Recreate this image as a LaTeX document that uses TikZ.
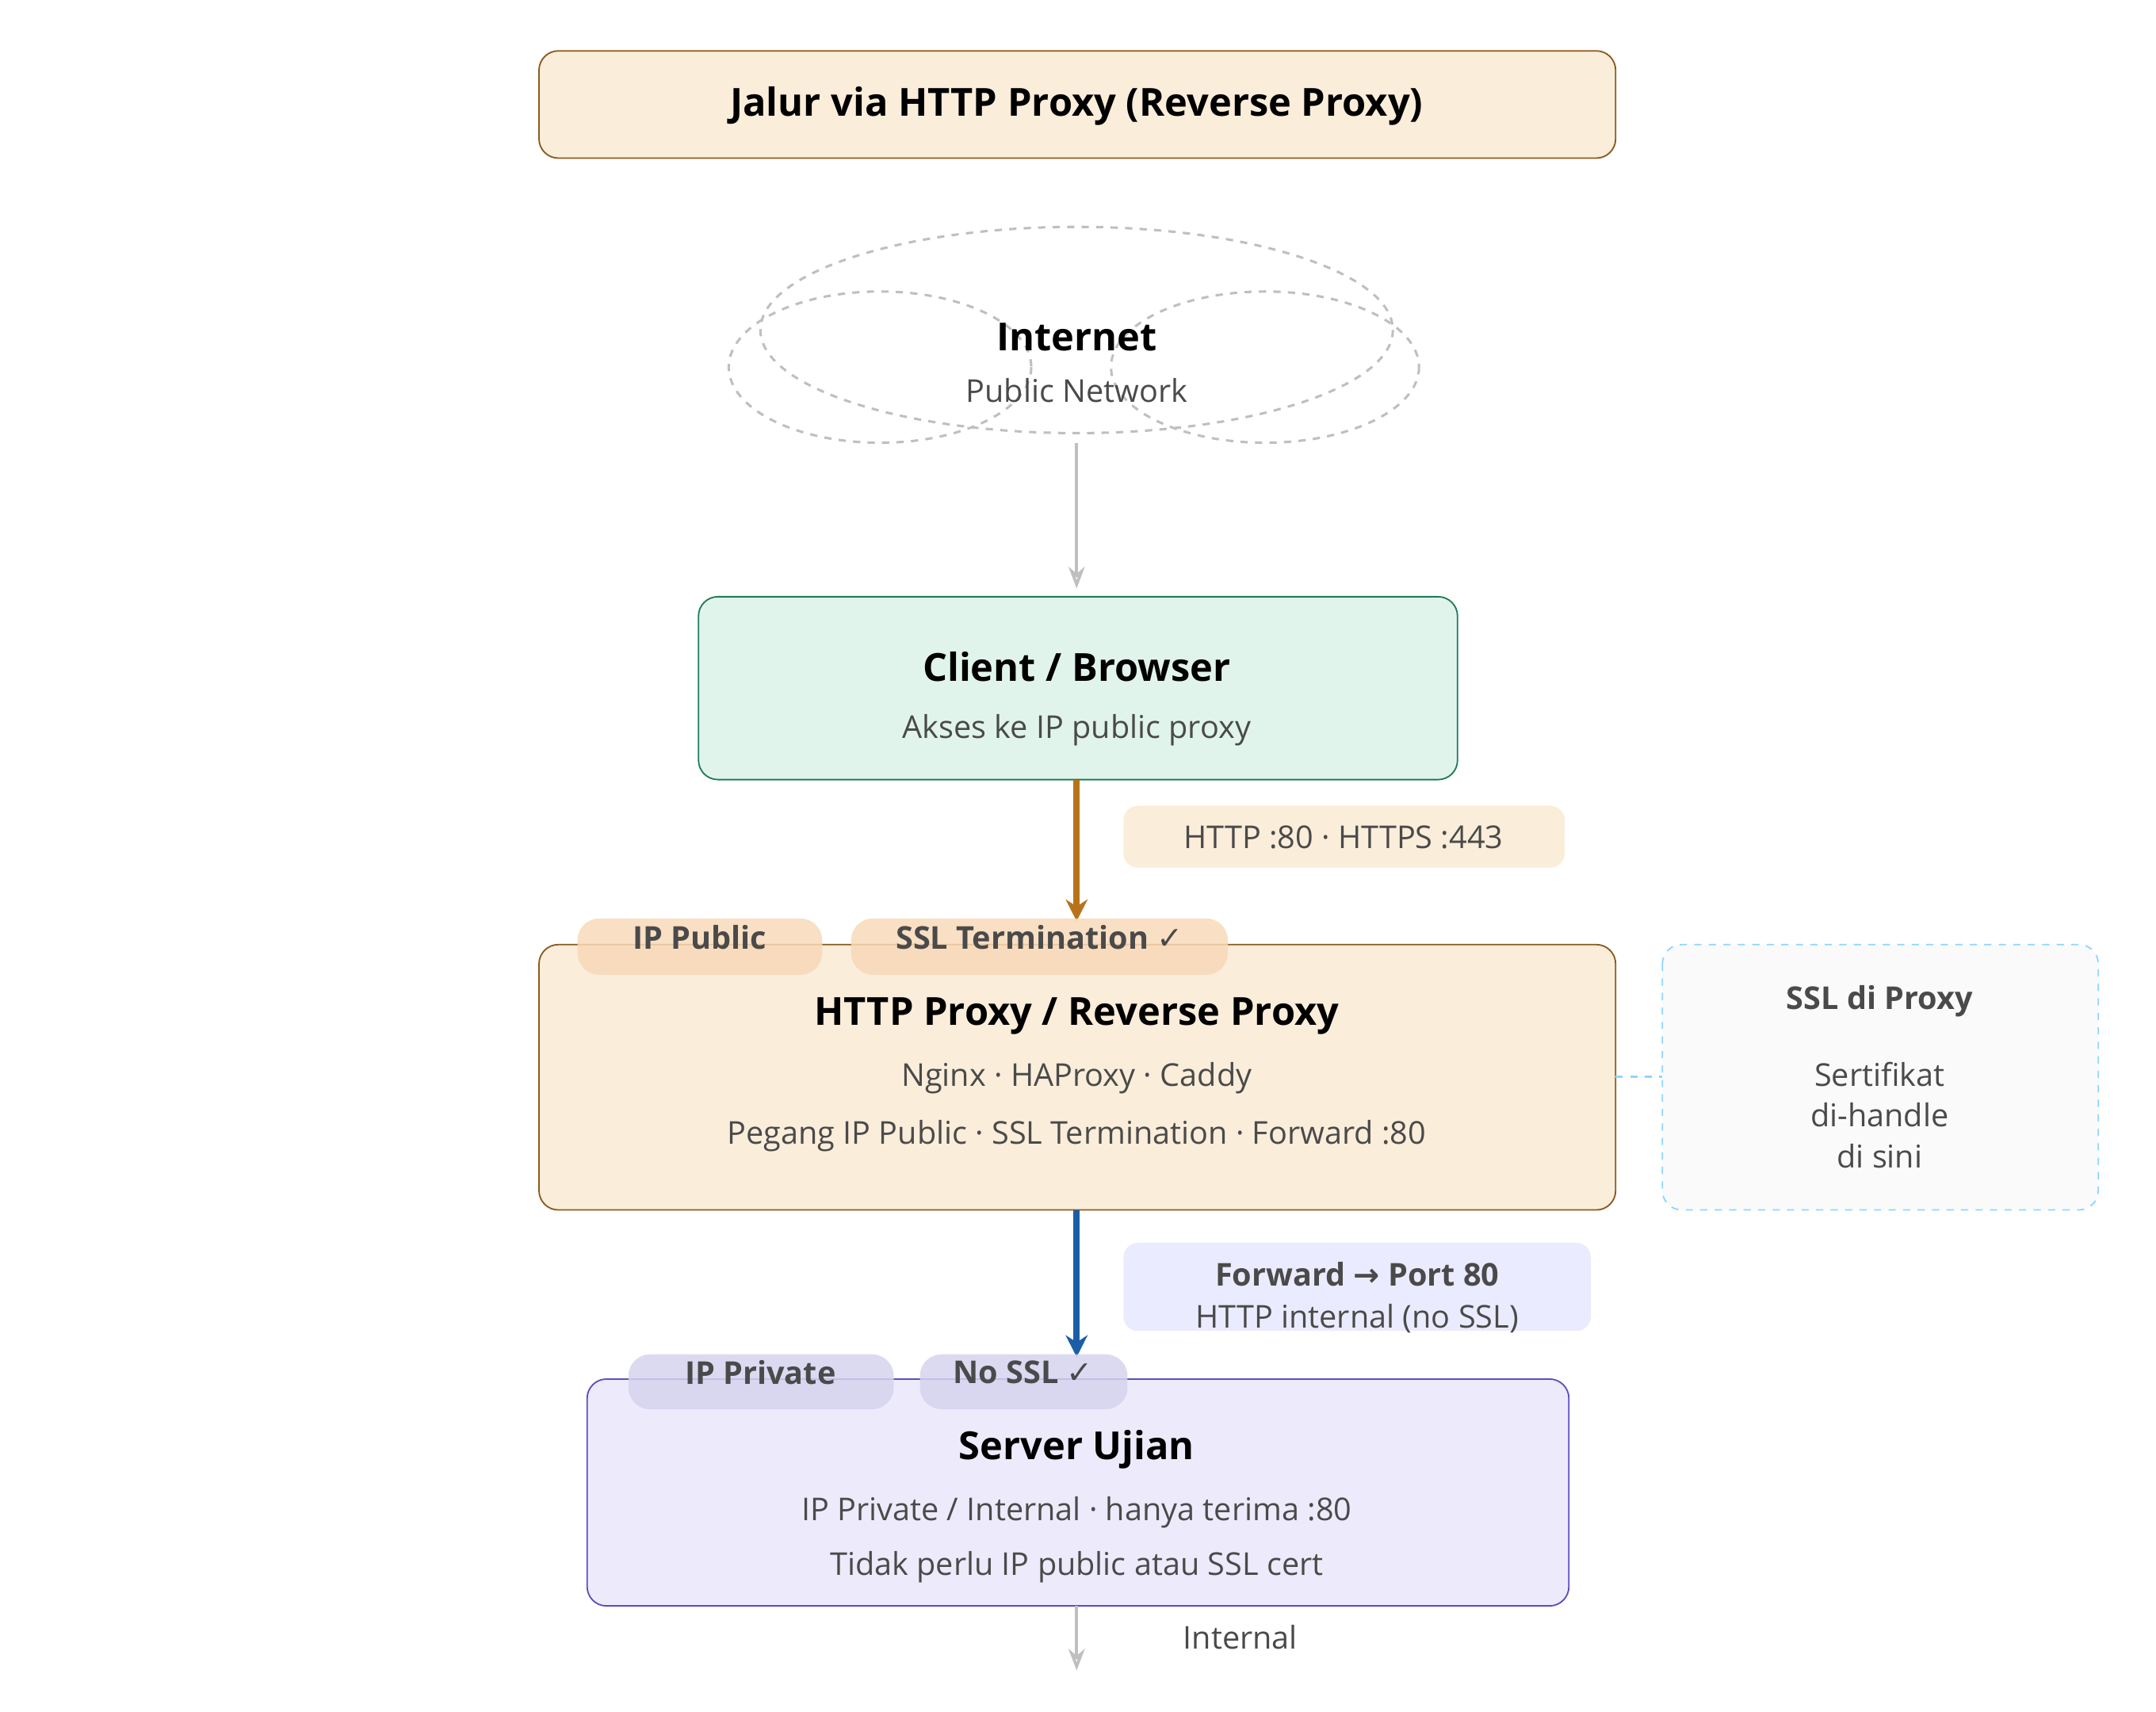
\documentclass[tikz,border=0pt]{standalone}
\usepackage{fontspec}
\setmainfont{Open Sans}
\newfontfamily\symfont{DejaVu Sans}
\usetikzlibrary{positioning,arrows.meta,shapes.geometric}
\definecolor{brownfill}{HTML}{FAEDDA}
\definecolor{browndraw}{HTML}{8A5A1E}
\definecolor{greenfill}{HTML}{E1F4EC}
\definecolor{greendraw}{HTML}{1E7B5A}
\definecolor{purplefill}{HTML}{EDEBFB}
\definecolor{purpledraw}{HTML}{5B4FC0}
\definecolor{textgray}{HTML}{4A4A4A}
\definecolor{orangeline}{HTML}{B8731A}
\definecolor{blueline}{HTML}{1A5EA8}
\newcommand{\chk}{{\symfont\char"2713}}
\newcommand{\rarr}{{\symfont\char"2192}}
\newcommand{\bigtxt}{\fontsize{16}{19}\selectfont}
\newcommand{\smalltxt}{\fontsize{13}{17}\selectfont}

\begin{document}
\begin{tikzpicture}[
  x=0.02cm, y=-0.02cm,
  box/.style={draw,rounded corners=8pt,line width=0.6pt},
  title/.style={font=\bigtxt\bfseries},
  sub/.style={font=\smalltxt,text=textgray},
  pill/.style={rounded corners=9pt,font=\smalltxt\bfseries,text=textgray,opacity=0.85,text opacity=1},
  flow/.style={line width=2.5pt,-{Stealth[length=9pt,width=9pt]}},
  thin/.style={draw=black!25,line width=1.2pt,-{Stealth[length=9pt,open]}},
]
  \useasboundingbox (0,0) rectangle (1568,1245);

  % Title
  \draw[box,fill=brownfill,draw=browndraw] (392,37) rectangle (1175,115);
  \node[title] (head) at (783,77) {Jalur via HTTP Proxy (Reverse Proxy)};

  % Internet cloud
  \draw[dashed,draw=black!25,line width=1pt] (783,240) ellipse (230 and 75);
  \draw[dashed,draw=black!25,line width=1pt] (640,267) ellipse (110 and 55);
  \draw[dashed,draw=black!25,line width=1pt] (920,267) ellipse (112 and 55);
  \node[title] (inet) at (783,245) {Internet};
  \node[sub] (inetsub) at (783,284) {Public Network};
  \coordinate (cloudbot) at (783,322);

  % Client
  \draw[box,fill=greenfill,draw=greendraw] (508,434) rectangle (1060,567);
  \node[title] (client) at (783,485) {Client / Browser};
  \node[sub] at (783,531) {Akses ke IP public proxy};
  \coordinate (clienttop) at (783,428);
  \coordinate (clientbot) at (783,567);

  % Proxy
  \draw[box,fill=brownfill,draw=browndraw] (392,687) rectangle (1175,880);
  \node[title] (proxy) at (783,739) {HTTP Proxy / Reverse Proxy};
  \node[sub] at (783,784) {Nginx · HAProxy · Caddy};
  \node[sub] at (783,826) {Pegang IP Public · SSL Termination · Forward :80};
  \coordinate (proxytop) at (783,670);
  \coordinate (proxybot) at (783,880);
  \coordinate (proxyright) at (1175,783);

  % Side note
  \draw[box,dashed,fill=black!2,draw=blue!35!cyan!45] (1209,687) rectangle (1526,880);
  \node[sub,font=\smalltxt\bfseries] (note) at (1367,728) {SSL di Proxy};
  \node[sub,align=center] at (1367,811) {Sertifikat\\di-handle\\di sini};
  \coordinate (noteleft) at (1209,783);
  \draw[dashed,draw=blue!35!cyan!45,line width=0.8pt] (proxyright) -- (noteleft);

  % Server
  \draw[box,fill=purplefill,draw=purpledraw] (427,1003) rectangle (1141,1168);
  \node[title] (server) at (783,1054) {Server Ujian};
  \node[sub] at (783,1100) {IP Private / Internal · hanya terima :80};
  \node[sub] at (783,1140) {Tidak perlu IP public atau SSL cert};
  \coordinate (servertop) at (783,987);
  \coordinate (serverbot) at (783,1168);
  \coordinate (out) at (783,1215);

  % Connectors
  \draw[thin] (cloudbot) -- (clienttop);
  \draw[flow,draw=orangeline] (clientbot) -- (proxytop);
  \draw[flow,draw=blueline] (proxybot) -- (servertop);
  \draw[thin] (serverbot) -- (out);

  % Labels
  \fill[brownfill,rounded corners=6pt] (817,586) rectangle (1138,631);
  \node[sub] (lbl1) at (977,609) {HTTP :80 · HTTPS :443};
  \fill[blue!8,rounded corners=6pt] (817,904) rectangle (1157,968);
  \node[sub,font=\smalltxt\bfseries] (lbl2) at (987,927) {Forward \rarr\ Port 80};
  \node[sub] at (987,959) {HTTP internal (no SSL)};
  \node[sub] (lbl3) at (902,1191) {Internal};

  % Pills
  \fill[pill,fill=brown!35!orange!30] (420,668) rectangle (598,709);
  \node[pill] at (509,682) {IP Public};
  \fill[pill,fill=brown!35!orange!30] (619,668) rectangle (893,709);
  \node[pill] at (756,682) {SSL Termination \chk};
  \fill[pill,fill=purpledraw!25] (457,985) rectangle (650,1025);
  \node[pill] at (553,998) {IP Private};
  \fill[pill,fill=purpledraw!25] (669,985) rectangle (820,1025);
  \node[pill] at (744,998) {No SSL \chk};
\end{tikzpicture}
\end{document}
